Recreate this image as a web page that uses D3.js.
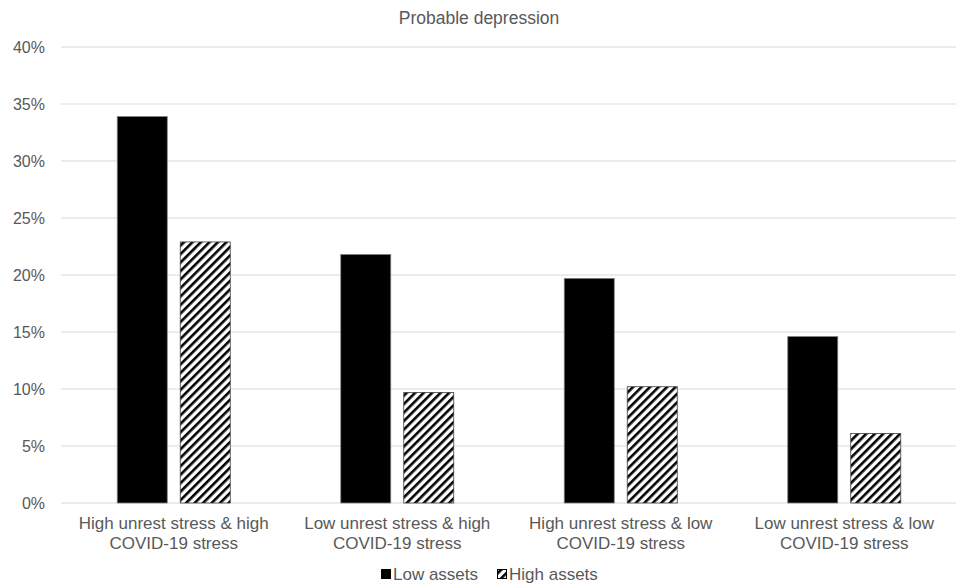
<!DOCTYPE html>
<html><head><meta charset="utf-8">
<script src="https://cdn.jsdelivr.net/npm/d3@7"></script>
<style>body{margin:0;background:#fff}text{font-family:"Liberation Sans",Arial,sans-serif}</style>
</head><body><svg id="c" width="959" height="586"></svg>
<script>
const categories = [["High unrest stress & high","COVID-19 stress"],["Low unrest stress & high","COVID-19 stress"],["High unrest stress & low","COVID-19 stress"],["Low unrest stress & low","COVID-19 stress"]];
const seriesNames = ["Low assets","High assets"];
const lowAssets = [0.339, 0.218, 0.197, 0.146];
const highAssets = [0.229, 0.097, 0.102, 0.061];
const yTicks = [0,0.05,0.10,0.15,0.20,0.25,0.30,0.35,0.40];

const svg = d3.select("#c");
const L=62, R=956, T=47, B=503;
const defs = svg.append("defs");
const pat = defs.append("pattern").attr("id","hatch").attr("patternUnits","userSpaceOnUse")
  .attr("width",6).attr("height",6).attr("patternTransform","rotate(45)");
pat.append("rect").attr("width",6).attr("height",6).attr("fill","#fff");
pat.append("rect").attr("x",0).attr("width",2.6).attr("height",6).attr("fill","#000");

const x0 = d3.scaleBand().domain(d3.range(categories.length)).range([L,R]).paddingInner(0).paddingOuter(0);
const y = d3.scaleLinear().domain([0,0.4]).range([B,T]);

svg.append("g").selectAll("line").data(yTicks).join("line")
  .attr("x1",L-1).attr("x2",R).attr("y1",d=>y(d)).attr("y2",d=>y(d))
  .attr("stroke","#d9d9d9").attr("stroke-width",1);

svg.append("g").selectAll("text").data(yTicks).join("text")
  .attr("x",45).attr("y",d=>y(d)+5.5).attr("text-anchor","end")
  .attr("font-size",16).attr("fill","#595959").text(d=>d3.format(".0%")(d));

const bw=50, gap=13;
const data = [lowAssets, highAssets];
data.forEach((vals,si)=>{
  svg.append("g").selectAll("rect").data(vals).join("rect")
    .attr("x",(d,i)=>x0(i)+x0.bandwidth()/2 + (si===0 ? -(bw+gap/2) : gap/2))
    .attr("y",d=>y(d)).attr("width",bw).attr("height",d=>B-y(d))
    .attr("fill", si===0 ? "#000" : "url(#hatch)")
    .attr("stroke", si===0 ? "#7f7f7f" : "#404040").attr("stroke-width",0.8);
});

const xl = svg.append("g");
categories.forEach((c,i)=>{
  const cx = x0(i)+x0.bandwidth()/2;
  const t = xl.append("text").attr("x",cx).attr("y",529)
    .attr("text-anchor","middle").attr("font-size",17).attr("fill","#595959");
  c.forEach((ln,j)=>t.append("tspan").attr("x",cx).attr("dy",j?20:0).text(ln));
});

svg.append("text").attr("x",479).attr("y",24).attr("text-anchor","middle")
  .attr("font-size",17.5).attr("fill","#595959").text("Probable depression");

// legend
const lg = svg.append("g");
lg.append("rect").attr("x",381).attr("y",569).attr("width",10).attr("height",10).attr("fill","#000");
lg.append("text").attr("x",393).attr("y",580).attr("font-size",17).attr("fill","#595959").text(seriesNames[0]);
lg.append("rect").attr("x",497.5).attr("y",569.5).attr("width",9).attr("height",9).attr("fill","url(#hatch)").attr("stroke","#000").attr("stroke-width",1);
lg.append("text").attr("x",509).attr("y",580).attr("font-size",17).attr("fill","#595959").text(seriesNames[1]);
</script></body></html>
